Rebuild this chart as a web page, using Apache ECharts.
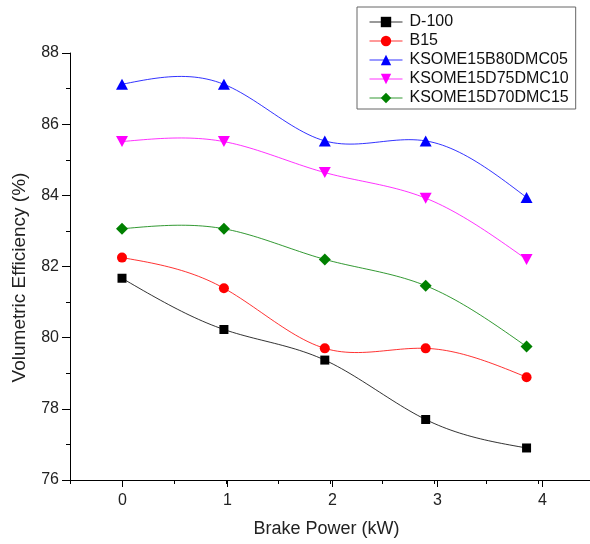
<!DOCTYPE html>
<html>
<head>
<meta charset="utf-8">
<script src="https://cdn.jsdelivr.net/npm/echarts@6/dist/echarts.min.js"></script>
<style>
html,body{margin:0;padding:0;background:#fff;}
#c{width:590px;height:544px;}
</style>
</head>
<body>
<div id="c"></div>
<script>
var brakePower = [0, 0.98, 1.95, 2.92, 3.89];
var seriesNames = ['D-100', 'B15', 'KSOME15B80DMC05', 'KSOME15D75DMC10', 'KSOME15D70DMC15'];
var d100 = [81.67, 80.23, 79.37, 77.70, 76.90];
var b15 = [82.25, 81.39, 79.70, 79.70, 78.89];
var b80 = [87.12, 87.12, 85.53, 85.53, 83.94];
var d75 = [85.51, 85.51, 84.64, 83.92, 82.20];
var d70 = [83.06, 83.06, 82.20, 81.46, 79.75];
var xTickLabels = ['0', '1', '2', '3', '4'];
var yTickLabels = ['76', '78', '80', '82', '84', '86', '88'];

var colors = ['#000000', '#ff0000', '#0000ff', '#ff00ff', '#008000'];
var symbols = ['rect', 'circle', 'triangle', 'path://M0,0 L10,0 L5,9 Z', 'diamond'];
var sizes = [9, 10, [12, 11], [12, 11], [12, 12]];
var values = [d100, b15, b80, d75, d70];

function pairs(v) {
  return brakePower.map(function (x, i) { return [x, v[i]]; });
}

// natural cubic spline through the data points (as in the original plotting software's "spline" connection)
function splineSampler(xs, ys) {
  var n = xs.length, h = [], M = new Array(n).fill(0);
  for (var i = 0; i < n - 1; i++) h.push(xs[i + 1] - xs[i]);
  var a = [], b = [], c = [], d = [];
  for (var i = 1; i < n - 1; i++) {
    a.push(h[i - 1]); b.push(2 * (h[i - 1] + h[i])); c.push(h[i]);
    d.push(6 * ((ys[i + 1] - ys[i]) / h[i] - (ys[i] - ys[i - 1]) / h[i - 1]));
  }
  var m = b.length;
  for (var i = 1; i < m; i++) {
    var w = a[i] / b[i - 1];
    b[i] -= w * c[i - 1]; d[i] -= w * d[i - 1];
  }
  var sol = new Array(m);
  for (var i = m - 1; i >= 0; i--) sol[i] = (d[i] - (i < m - 1 ? c[i] * sol[i + 1] : 0)) / b[i];
  for (var i = 0; i < m; i++) M[i + 1] = sol[i];
  return function (steps) {
    var out = [];
    for (var i = 0; i < n - 1; i++) {
      for (var s = 0; s <= steps; s++) {
        if (i > 0 && s === 0) continue;
        var x = xs[i] + h[i] * s / steps;
        var t = x - xs[i], u = xs[i + 1] - x, hh = h[i];
        var y = M[i] * u * u * u / (6 * hh) + M[i + 1] * t * t * t / (6 * hh) +
          (ys[i] / hh - M[i] * hh / 6) * u + (ys[i + 1] / hh - M[i + 1] * hh / 6) * t;
        out.push([x, y]);
      }
    }
    return out;
  };
}

var curveSeries = values.map(function (v, k) {
  var sampler = splineSampler(brakePower, v);
  return {
    type: 'custom',
    coordinateSystem: 'cartesian2d',
    xAxisIndex: 0, yAxisIndex: 0,
    data: pairs(v),
    silent: true,
    z: 2,
    renderItem: function (params, api) {
      if (params.dataIndex !== 0) return null;
      var pts = sampler(24).map(function (p) { return api.coord(p); });
      return {
        type: 'polyline',
        shape: { points: pts },
        style: { stroke: colors[k], lineWidth: 1, fill: null, opacity: 0.8 }
      };
    }
  };
});

var markerSeries = values.map(function (v, k) {
  return {
    name: seriesNames[k],
    type: 'line',
    xAxisIndex: 0, yAxisIndex: 0,
    data: pairs(v),
    symbol: symbols[k],
    symbolSize: sizes[k],
    showAllSymbol: true,
    lineStyle: { color: colors[k], width: 1, opacity: 0 },
    itemStyle: { color: colors[k] },
    emphasis: { disabled: true },
    z: 3
  };
});

var font = 'Liberation Sans, Arial, sans-serif';
var chart = echarts.init(document.getElementById('c'), null, { renderer: 'canvas' });
chart.setOption({
  animation: false,
  backgroundColor: '#ffffff',
  textStyle: { fontFamily: font },
  grid: [
    { left: 70, top: 53, width: 525, height: 427, containLabel: false },
    { left: 122.5, top: 53, width: 420, height: 427, containLabel: false }
  ],
  xAxis: [
    {
      type: 'value', gridIndex: 0, min: -0.5, max: 4.5, interval: 0.5,
      axisLine: { show: true, onZero: false, lineStyle: { color: '#000', width: 1 } },
      axisTick: { show: true, length: 4, lineStyle: { color: '#000' } },
      axisLabel: { show: false },
      splitLine: { show: false },
      name: 'Brake Power (kW)', nameLocation: 'middle', nameGap: 40,
      nameTextStyle: { fontSize: 18, color: '#222', fontFamily: font, padding: [0, 7, 0, 0] }
    },
    {
      type: 'value', gridIndex: 1, min: 0, max: 4, interval: 1,
      axisLine: { show: false, onZero: false },
      axisTick: { show: true, length: 7, lineStyle: { color: '#000' } },
      axisLabel: {
        show: true, margin: 13, fontSize: 16, color: '#222', fontFamily: font,
        formatter: function (v) { var i = Math.round(v); return xTickLabels[i] !== undefined ? xTickLabels[i] : ''; }
      },
      splitLine: { show: false }
    }
  ],
  yAxis: [
    {
      type: 'value', gridIndex: 0, min: 76, max: 88, interval: 2,
      axisLine: { show: true, onZero: false, lineStyle: { color: '#000', width: 1 } },
      axisTick: { show: true, length: 8, lineStyle: { color: '#000' } },
      minorTick: { show: true, splitNumber: 2, length: 4, lineStyle: { color: '#000' } },
      axisLabel: {
        margin: 11, fontSize: 16, color: '#222', fontFamily: font,
        formatter: function (v) { var i = Math.round((v - 76) / 2); return yTickLabels[i] || ''; }
      },
      splitLine: { show: false },
      name: 'Volumetric Efficiency (%)', nameLocation: 'middle', nameGap: 41,
      nameTextStyle: { fontSize: 19, color: '#222', fontFamily: font, padding: [0, 22, 0, 0] }
    },
    {
      type: 'value', gridIndex: 1, min: 76, max: 88, show: false
    }
  ],
  legend: {
    orient: 'vertical',
    left: 357, top: 7,
    padding: [7, 7, 3, 12],
    borderColor: '#666', borderWidth: 1,
    backgroundColor: '#fff',
    itemWidth: 33, itemHeight: 13, itemGap: 3,
    selectedMode: false,
    textStyle: { fontSize: 16, color: '#111', fontFamily: font, lineHeight: 15, padding: [0, 0, 0, 2] },
    data: seriesNames.map(function (n, k) {
      return { name: n, lineStyle: { color: colors[k], width: 1, opacity: 0.8 } };
    })
  },
  series: curveSeries.concat(markerSeries)
});
</script>
</body>
</html>
